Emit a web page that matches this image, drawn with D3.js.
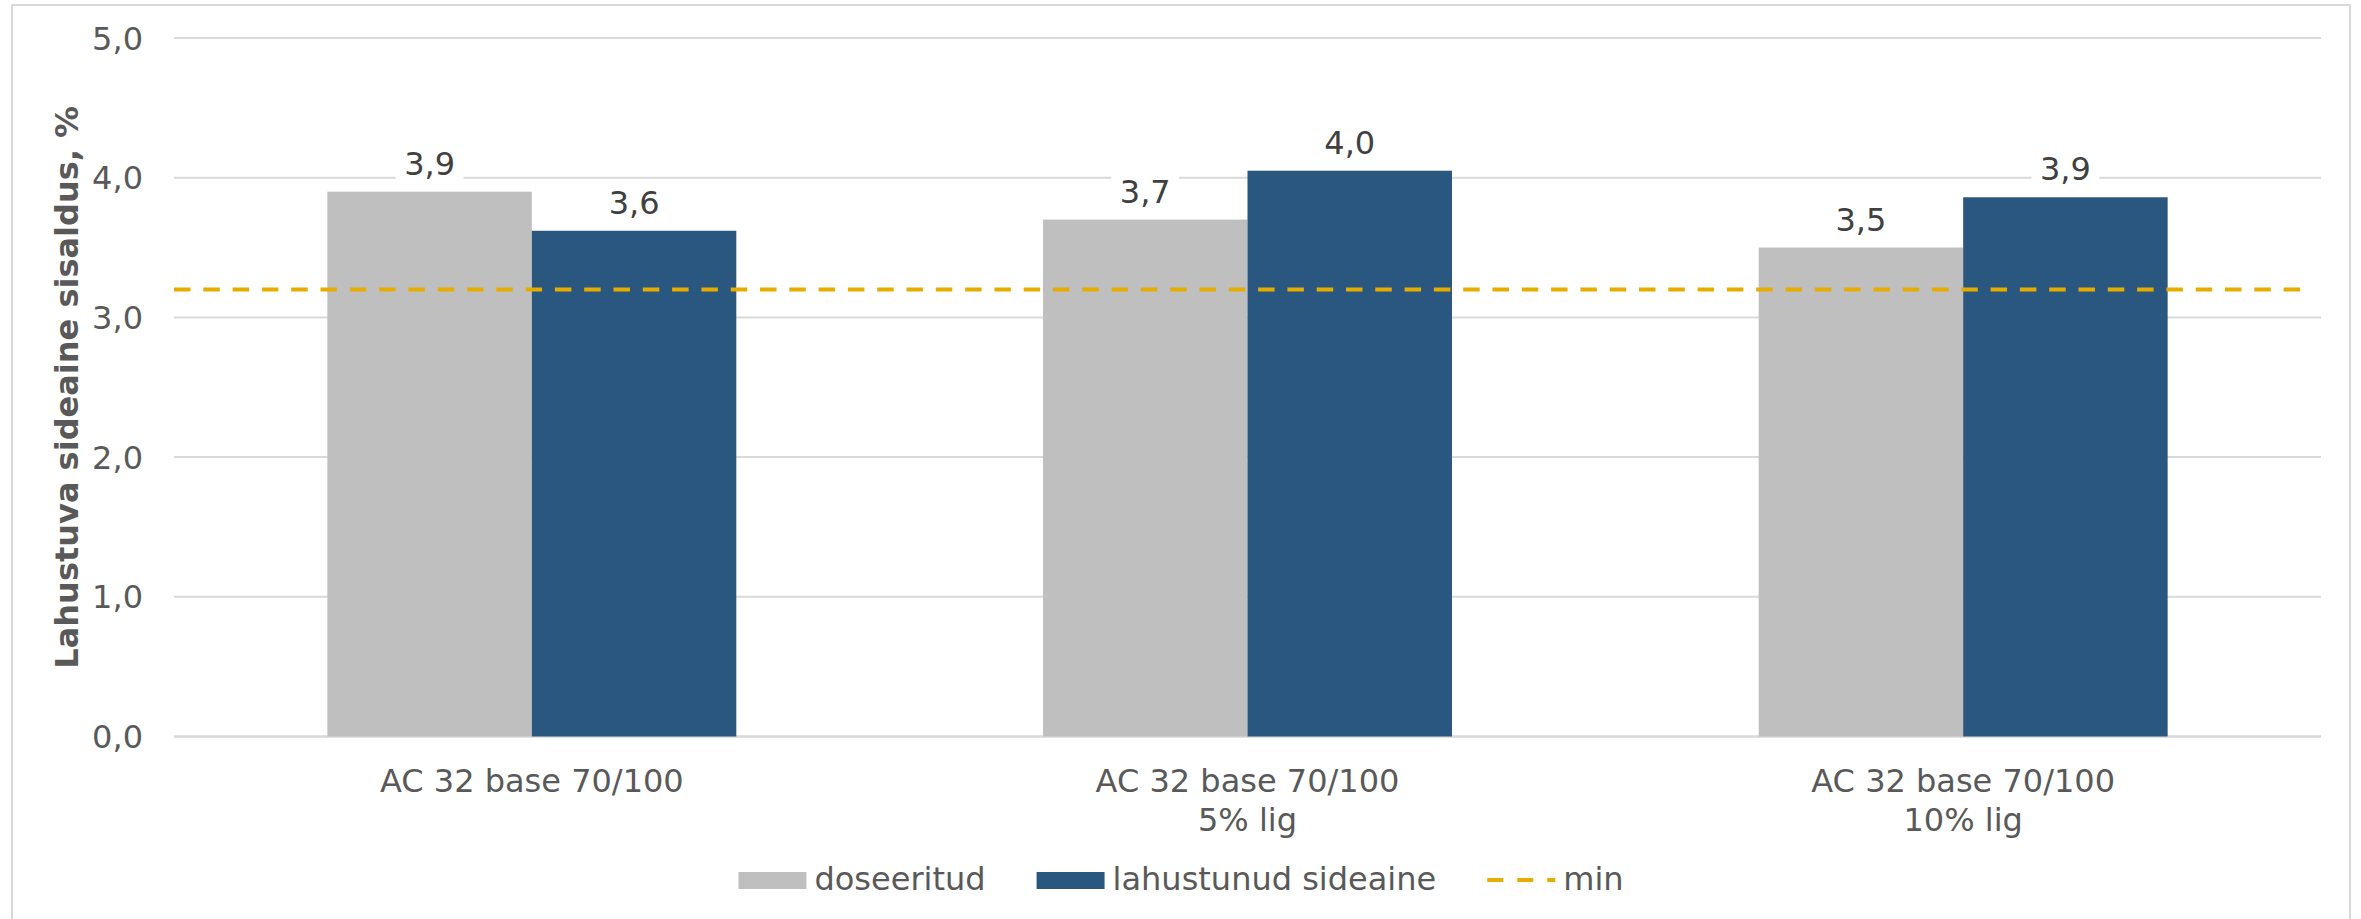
<!DOCTYPE html>
<html>
  <head>
    <meta charset="utf-8">
    <title>Lahustuva sideaine sisaldus</title>
    <script src="https://d3js.org/d3.v7.min.js"></script>
    <style>
      body { margin: 0; background: #fff; }
      text { font-family: Verdana, "DejaVu Sans", sans-serif; }
    </style>
  </head>
  <body>
    <svg width="2361" height="919"></svg>
</body>
</html>
<script>

const categories = [
  ['AC 32 base 70/100'],
  ['AC 32 base 70/100', '5% lig'],
  ['AC 32 base 70/100', '10% lig']
];
const seriesNames = ['doseeritud', 'lahustunud sideaine'];
const doseeritud = [3.90, 3.70, 3.50];
const lahustunud = [3.62, 4.05, 3.86];
const minValue = 3.2;
const yTicks = [0, 1, 2, 3, 4, 5];

const colors = ['#BFBFBF', '#2A5780'];
const minColor = '#E6AD00';

const svg = d3.select('svg');

// chart frame
svg.append('rect')
  .attr('x', 12).attr('y', 5)
  .attr('width', 2338).attr('height', 920)
  .attr('fill', '#fff')
  .attr('stroke', '#D9D9D9')
  .attr('stroke-width', 2);

const plot = {left: 174, right: 2321, top: 38, bottom: 736.5};

const x0 = d3.scaleBand()
  .domain(d3.range(categories.length))
  .range([plot.left, plot.right])
  .padding(0);

const groupWidth = x0.bandwidth() * 2 / 3.5;
const x1 = d3.scaleBand()
  .domain([0, 1])
  .range([0, groupWidth]);

const y = d3.scaleLinear()
  .domain([0, 5])
  .range([plot.bottom, plot.top]);

// gridlines
svg.append('g')
  .selectAll('line')
  .data(yTicks)
  .join('line')
  .attr('x1', plot.left)
  .attr('x2', plot.right)
  .attr('y1', d => y(d))
  .attr('y2', d => y(d))
  .attr('stroke', '#D9D9D9')
  .attr('stroke-width', d => d === 0 ? 2.5 : 2);

// y axis labels
const fmt = d => d3.format('.1f')(d).replace('.', ',');
svg.append('g')
  .selectAll('text')
  .data(yTicks)
  .join('text')
  .attr('x', 143)
  .attr('y', d => y(d))
  .attr('dy', '0.36em')
  .attr('text-anchor', 'end')
  .attr('font-size', 32)
  .attr('fill', '#595959')
  .text(fmt);

// y axis title
svg.append('text')
  .attr('transform', `translate(78,${(plot.top + plot.bottom) / 2}) rotate(-90)`)
  .attr('text-anchor', 'middle')
  .attr('font-size', 32)
  .attr('font-weight', 'bold')
  .attr('fill', '#595959')
  .text('Lahustuva sideaine sisaldus, %');

// bars
const rows = categories.map((c, i) => ({i, values: [doseeritud[i], lahustunud[i]]}));
const groups = svg.append('g')
  .selectAll('g')
  .data(rows)
  .join('g')
  .attr('transform', d => `translate(${x0(d.i) + (x0.bandwidth() - groupWidth) / 2},0)`);

groups.selectAll('rect')
  .data(d => d.values.map((v, k) => ({k, v})))
  .join('rect')
  .attr('x', d => x1(d.k))
  .attr('width', x1.bandwidth())
  .attr('y', d => y(d.v))
  .attr('height', d => y(0) - y(d.v))
  .attr('fill', d => colors[d.k]);

// min line
svg.append('line')
  .attr('x1', plot.left)
  .attr('x2', 2307)
  .attr('y1', y(minValue))
  .attr('y2', y(minValue))
  .attr('stroke', minColor)
  .attr('stroke-width', 4)
  .attr('stroke-dasharray', '16.5 12.8');

// data labels with white boxes
const labels = groups.selectAll('g.lbl')
  .data(d => d.values.map((v, k) => ({k, v})))
  .join('g')
  .classed('lbl', true)
  .attr('transform', d => `translate(${x1(d.k) + x1.bandwidth() / 2},${y(d.v) - 17})`);

labels.append('rect')
  .attr('x', -34)
  .attr('y', -31)
  .attr('width', 68)
  .attr('height', 38)
  .attr('fill', '#fff');

labels.append('text')
  .attr('text-anchor', 'middle')
  .attr('font-size', 32)
  .attr('fill', '#404040')
  .text(d => fmt(d.v));

// category labels
svg.append('g')
  .selectAll('text')
  .data(categories)
  .join('text')
  .attr('x', (d, i) => x0(i) + x0.bandwidth() / 2)
  .attr('y', 792)
  .attr('text-anchor', 'middle')
  .attr('font-size', 32)
  .attr('fill', '#595959')
  .selectAll('tspan')
  .data(d => d)
  .join('tspan')
  .attr('x', function() { return this.parentNode.getAttribute('x'); })
  .attr('dy', (d, i) => i === 0 ? 0 : 39)
  .text(d => d);

// legend
const legendItems = [
  {name: seriesNames[0], type: 'rect', color: colors[0]},
  {name: seriesNames[1], type: 'rect', color: colors[1]},
  {name: 'min', type: 'line', color: minColor}
];
const legend = svg.append('g');
const items = legend.selectAll('g')
  .data(legendItems)
  .join('g');

items.each(function(d) {
  const g = d3.select(this);
  if (d.type === 'rect') {
    g.append('rect')
      .attr('x', 0).attr('y', -18)
      .attr('width', 68).attr('height', 17)
      .attr('fill', d.color);
  } else {
    g.append('line')
      .attr('x1', 0).attr('x2', 68)
      .attr('y1', -10).attr('y2', -10)
      .attr('stroke', d.color)
      .attr('stroke-width', 4)
      .attr('stroke-dasharray', '16 14');
  }
  g.append('text')
    .attr('x', 76)
    .attr('font-size', 32)
    .attr('fill', '#595959')
    .text(d.name);
});

let offset = 0;
const widths = [];
items.each(function() {
  const w = 76 + d3.select(this).select('text').node().getComputedTextLength();
  widths.push(w);
});
const gap = 51;
const total = d3.sum(widths) + gap * (widths.length - 1);
const startX = 1181 - total / 2;
items.attr('transform', (d, i) => {
  const tx = startX + offset;
  offset += widths[i] + gap;
  return `translate(${tx},890)`;
});

</script>
